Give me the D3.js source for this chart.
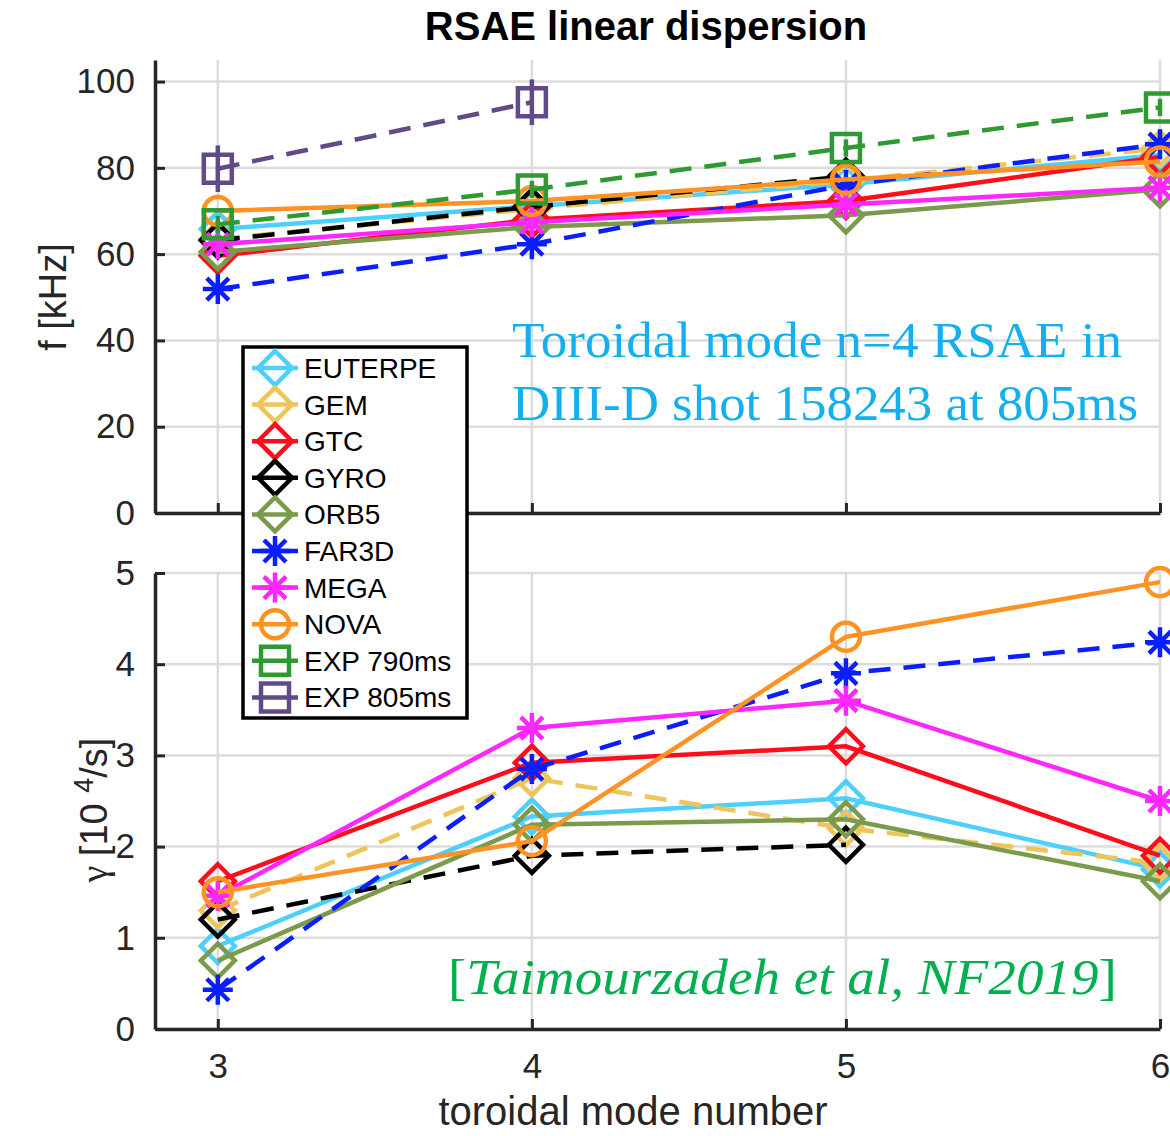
<html>
<head>
<script src="https://d3js.org/d3.v7.min.js"></script>
<style>
body { margin: 0; background: #fff; }
svg { display: block; }
</style>
</head>
<body>
<div id="chart"></div>
<script>
// ---- data ----
var modes = [3, 4, 5, 6];
var codes = ["EUTERPE", "GEM", "GTC", "GYRO", "ORB5", "FAR3D", "MEGA", "NOVA", "EXP 790ms", "EXP 805ms"];

// frequency [kHz], top panel
var fEUTERPE = [65.8, 71.1, 76.2, 83];
var fGEM     = [63.5, 70.5, 77, 84.5];
var fGTC     = [59.6, 68, 72.3, 82.5];
var fGYRO    = [63.2, 71, 78, null];
var fORB5    = [60.5, 66.3, 69, 75];
var fFAR3D   = [51.9, 62.3, 76, 85.5];
var fMEGA    = [62.3, 67.4, 71.5, 75.4];
var fNOVA    = [70, 72.3, 77.3, 81.5];
var fEXP790  = [66.9, 75, 84.6, 94];
var fEXP805  = [79.8, 95.2, null, null];
var errEXP790 = [2, 2, 2, 2];
var errEXP805 = [5.4, 5.3, null, null];

// growth rate [10^4/s], bottom panel
var gEUTERPE = [0.91, 2.33, 2.53, 1.75];
var gGEM     = [1.3, 2.75, 2.2, 1.82];
var gGTC     = [1.62, 2.92, 3.1, 1.9];
var gGYRO    = [1.2, 1.9, 2.02, null];
var gORB5    = [0.75, 2.24, 2.3, 1.62];
var gFAR3D   = [0.43, 2.85, 3.9, 4.24];
var gMEGA    = [1.46, 3.3, 3.6, 2.5];
var gNOVA    = [1.5, 2.06, 4.3, 4.9];

var topTicks = [0, 20, 40, 60, 80, 100];
var botTicks = [0, 1, 2, 3, 4, 5];

var freqSets = [fEUTERPE, fGEM, fGTC, fGYRO, fORB5, fFAR3D, fMEGA, fNOVA, fEXP790, fEXP805];
var gammaSets = [gEUTERPE, gGEM, gGTC, gGYRO, gORB5, gFAR3D, gMEGA, gNOVA, null, null];
var errSets = [null, null, null, null, null, null, null, null, errEXP790, errEXP805];

// ---- styles ----
var dash = "22,13";
var styles = [
  {color: "#4dcfff", dash: null, marker: "diamond"},
  {color: "#edc55a", dash: dash, marker: "diamond"},
  {color: "#ff0d1a", dash: null, marker: "diamond"},
  {color: "#000000", dash: dash, marker: "diamond"},
  {color: "#7b9a4b", dash: null, marker: "diamond"},
  {color: "#0a1eff", dash: dash, marker: "asterisk"},
  {color: "#ff26ff", dash: null, marker: "asterisk"},
  {color: "#ff9222", dash: null, marker: "circle"},
  {color: "#2f9a33", dash: dash, marker: "square"},
  {color: "#614a87", dash: dash, marker: "square"}
];
var lw = 4.5;

var W = 1170, H = 1136;
var svg = d3.select("#chart").append("svg").attr("width", W).attr("height", H);

var x = d3.scaleLinear().domain([2.8, 6]).range([155, 1160]);
var yTop = d3.scaleLinear().domain([0, 105]).range([513, 60]);
var yBot = d3.scaleLinear().domain([0, 5]).range([1029, 573]);

var axisColor = "#262626";
var gridColor = "#dcdcdc";
var sans = "'Liberation Sans', Arial, Helvetica, sans-serif";

function markerPath(type) {
  if (type == "diamond") { var s = 17; return "M0," + (-s) + "L" + s + ",0L0," + s + "L" + (-s) + ",0Z"; }
  if (type == "square") { var h = 14; return "M" + (-h) + "," + (-h) + "H" + h + "V" + h + "H" + (-h) + "Z"; }
  if (type == "circle") { var r = 14; return "M" + r + ",0A" + r + "," + r + " 0 1,1 " + (-r) + ",0A" + r + "," + r + " 0 1,1 " + r + ",0Z"; }
  // asterisk: 4 strokes through the centre
  var a = 15, d = 11;
  return "M0," + (-a) + "V" + a + "M" + (-a) + ",0H" + a +
         "M" + (-d) + "," + (-d) + "L" + d + "," + d + "M" + (-d) + "," + d + "L" + d + "," + (-d);
}

function drawPanel(y, ticks, sets, errs) {
  var g = svg.append("g");
  // grid
  g.selectAll(".vgrid").data(modes).enter().append("line")
    .attr("x1", function(d) { return x(d); }).attr("x2", function(d) { return x(d); })
    .attr("y1", y.range()[1]).attr("y2", y.range()[0])
    .style("stroke", gridColor).style("stroke-width", 2.5);
  g.selectAll(".hgrid").data(ticks).enter().append("line")
    .attr("x1", x.range()[0]).attr("x2", x.range()[1])
    .attr("y1", function(d) { return y(d); }).attr("y2", function(d) { return y(d); })
    .style("stroke", gridColor).style("stroke-width", 2.5);

  // series
  for (var i = 0; i < codes.length; i++) {
    var vals = sets[i];
    if (!vals) continue;
    var st = styles[i];
    var pts = modes.map(function(m, k) { return {m: m, v: vals[k], e: errs[i] ? errs[i][k] : null}; });
    var line = d3.line().defined(function(d) { return d.v != null; })
      .x(function(d) { return x(d.m); }).y(function(d) { return y(d.v); });
    g.append("path").datum(pts).attr("d", line)
      .style("fill", "none").style("stroke", st.color).style("stroke-width", lw)
      .style("stroke-dasharray", st.dash);
    var valid = pts.filter(function(d) { return d.v != null; });
    g.selectAll(".err" + i).data(valid.filter(function(d) { return d.e != null; })).enter().append("line")
      .attr("x1", function(d) { return x(d.m); }).attr("x2", function(d) { return x(d.m); })
      .attr("y1", function(d) { return y(d.v - d.e); }).attr("y2", function(d) { return y(d.v + d.e); })
      .style("stroke", st.color).style("stroke-width", lw);
    g.selectAll(".mk" + i).data(valid).enter().append("path")
      .attr("d", markerPath(st.marker))
      .attr("transform", function(d) { return "translate(" + x(d.m) + "," + y(d.v) + ")"; })
      .style("fill", "none").style("stroke", st.color).style("stroke-width", lw);
  }

  // y axis
  g.append("g").attr("transform", "translate(" + x.range()[0] + ",0)")
    .call(d3.axisLeft(y).tickValues(ticks).tickSize(-10).tickSizeOuter(0).tickPadding(20)
      .tickFormat(d3.format("d")));
  return g;
}

function styleAxis(a) {
  a.select(".domain").style("stroke", axisColor).style("stroke-width", 3.5);
  a.selectAll(".tick line").style("stroke", axisColor).style("stroke-width", 3);
  a.selectAll(".tick text").style("font-family", sans).style("font-size", "35px").style("fill", axisColor);
}

drawPanel(yTop, topTicks, freqSets, errSets);
drawPanel(yBot, botTicks, gammaSets, errSets);

svg.append("g").attr("transform", "translate(0," + yTop.range()[0] + ")")
  .call(d3.axisBottom(x).tickValues(modes).tickSize(-10).tickSizeOuter(0).tickFormat(""));
svg.append("g").attr("transform", "translate(0," + yBot.range()[0] + ")")
  .call(d3.axisBottom(x).tickValues(modes).tickSize(-10).tickSizeOuter(0).tickPadding(24)
    .tickFormat(d3.format("d")));
svg.selectAll("g").each(function() {
  var a = d3.select(this);
  if (!a.select(".domain").empty()) styleAxis(a);
});

// titles and labels
svg.append("text").attr("x", 646).attr("y", 40).attr("text-anchor", "middle")
  .style("font-family", sans).style("font-weight", "bold").style("font-size", "40px").style("fill", "#000")
  .text("RSAE linear dispersion");
svg.append("text").attr("x", 633).attr("y", 1125).attr("text-anchor", "middle")
  .style("font-family", sans).style("font-size", "40px").style("fill", axisColor)
  .text("toroidal mode number");
svg.append("text").attr("transform", "translate(66,297) rotate(-90)").attr("text-anchor", "middle")
  .style("font-family", sans).style("font-size", "38px").style("fill", axisColor)
  .text("f [kHz]");
var gl = svg.append("text").attr("transform", "translate(107,810) rotate(-90)").attr("text-anchor", "middle")
  .style("font-family", sans).style("font-size", "38px").style("fill", axisColor);
gl.append("tspan").style("font-family", "'Liberation Serif', serif").text("\u03B3 ");
gl.append("tspan").text("[10 ");
gl.append("tspan").attr("dy", -14).style("font-size", "27px").text("4");
gl.append("tspan").attr("dy", 14).text("/s]");

// legend
var lg = svg.append("g");
lg.append("rect").attr("x", 243).attr("y", 347).attr("width", 224).attr("height", 371)
  .style("fill", "#fff").style("stroke", "#000").style("stroke-width", 3.5);
var rows = lg.selectAll(".row").data(codes).enter().append("g")
  .attr("transform", function(d, i) { return "translate(0," + (368 + i * 36.6) + ")"; });
rows.append("line").attr("x1", 252).attr("x2", 298)
  .style("stroke", function(d, i) { return styles[i].color; }).style("stroke-width", lw);
rows.append("path").attr("d", function(d, i) { return markerPath(styles[i].marker); })
  .attr("transform", "translate(275,0)")
  .style("fill", "none").style("stroke", function(d, i) { return styles[i].color; }).style("stroke-width", lw);
rows.append("text").attr("x", 304).attr("y", 10)
  .style("font-family", sans).style("font-size", "28px").style("fill", "#000")
  .text(function(d) { return d; });

// annotations
var serif = "'Liberation Serif', 'Times New Roman', serif";
svg.append("text").attr("x", 512).attr("y", 357).attr("textLength", 610).attr("lengthAdjust", "spacingAndGlyphs")
  .style("font-family", serif).style("font-size", "50px").style("fill", "#14b0ee")
  .text("Toroidal mode n=4 RSAE in");
svg.append("text").attr("x", 512).attr("y", 420).attr("textLength", 626).attr("lengthAdjust", "spacingAndGlyphs")
  .style("font-family", serif).style("font-size", "50px").style("fill", "#14b0ee")
  .text("DIII-D shot 158243 at 805ms");
var cite = svg.append("text").attr("x", 448).attr("y", 994).attr("textLength", 669).attr("lengthAdjust", "spacingAndGlyphs")
  .style("font-family", serif).style("font-size", "50px").style("fill", "#00b050");
cite.append("tspan").text("[");
cite.append("tspan").style("font-style", "italic").text("Taimourzadeh et al, NF2019");
cite.append("tspan").text("]");
</script>
</body>
</html>
